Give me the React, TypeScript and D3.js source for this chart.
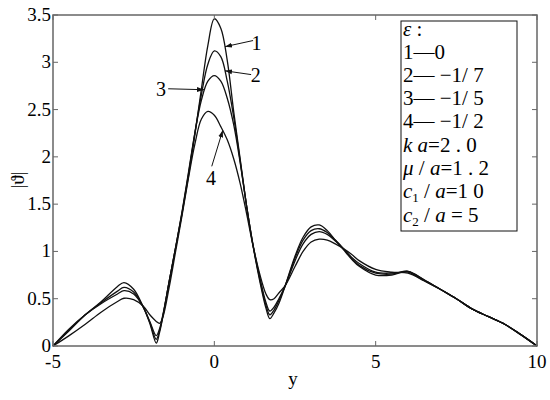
import React from 'react';
import * as d3 from 'd3';

// sample positions along y, shared by the four curves
const yPos = [-5, -4.5, -4, -3.5, -3, -2.8, -2.5, -2.2, -2, -1.8, -1.7, -1.6, -1.4, -1.2, -1, -0.8, -0.6, -0.4, -0.2, 0,
  0.2, 0.4, 0.6, 0.8, 1, 1.2, 1.4, 1.6, 1.72, 1.85, 2, 2.2, 2.5, 2.75, 3, 3.25, 3.5, 3.75, 4, 4.25,
  4.5, 5, 5.5, 6, 6.5, 7, 7.5, 8, 8.5, 9, 9.5, 10];

// |theta| for eps = 0, -1/7, -1/5, -1/2
const curve1 = [0, 0.16, 0.33, 0.47, 0.63, 0.67, 0.6, 0.41, 0.24, 0.03, 0.14, 0.3, 0.68, 1.04, 1.4, 1.8, 2.24, 2.72, 3.18, 3.46,
  3.36, 3.02, 2.48, 1.98, 1.48, 1.06, 0.7, 0.4, 0.29, 0.35, 0.45, 0.64, 0.95, 1.15, 1.26, 1.28, 1.22, 1.12, 1.02, 0.92,
  0.84, 0.75, 0.75, 0.79, 0.7, 0.6, 0.5, 0.39, 0.31, 0.23, 0.12, 0];
const curve2 = [0, 0.17, 0.33, 0.46, 0.58, 0.62, 0.57, 0.41, 0.25, 0.07, 0.16, 0.31, 0.68, 1.04, 1.41, 1.82, 2.26, 2.66, 2.98, 3.12,
  3.06, 2.8, 2.42, 1.96, 1.48, 1.06, 0.72, 0.43, 0.33, 0.38, 0.48, 0.64, 0.93, 1.12, 1.22, 1.24, 1.2, 1.12, 1.03, 0.93,
  0.85, 0.77, 0.76, 0.79, 0.7, 0.6, 0.5, 0.39, 0.31, 0.23, 0.12, 0];
const curve3 = [0, 0.18, 0.33, 0.45, 0.55, 0.585, 0.55, 0.41, 0.26, 0.11, 0.18, 0.32, 0.68, 1.04, 1.42, 1.84, 2.26, 2.6, 2.8, 2.86,
  2.8, 2.62, 2.34, 1.94, 1.48, 1.07, 0.74, 0.46, 0.37, 0.41, 0.5, 0.64, 0.9, 1.08, 1.18, 1.21, 1.18, 1.11, 1.03, 0.94,
  0.87, 0.78, 0.77, 0.78, 0.69, 0.6, 0.5, 0.39, 0.31, 0.23, 0.12, 0];
const curve4 = [0, 0.11, 0.23, 0.36, 0.47, 0.505, 0.49, 0.42, 0.33, 0.26, 0.24, 0.3, 0.62, 1.0, 1.38, 1.78, 2.14, 2.4, 2.48, 2.44,
  2.32, 2.18, 1.98, 1.72, 1.4, 1.06, 0.77, 0.55, 0.49, 0.5, 0.56, 0.64, 0.84, 1.0, 1.1, 1.13, 1.12, 1.08, 1.03, 0.97,
  0.9, 0.81, 0.78, 0.77, 0.69, 0.6, 0.5, 0.39, 0.31, 0.23, 0.12, 0];

const xTicks = [-5, 0, 5, 10];
const yTicks = [0, 0.5, 1, 1.5, 2, 2.5, 3, 3.5];

// curve labels: text position and arrow (tail -> tip) in data units
const labels = [
  {text: '1', tx: 1.31, ty: 3.2, x0: 1.2, y0: 3.23, x1: 0.33, y1: 3.165},
  {text: '2', tx: 1.28, ty: 2.86, x0: 1.14, y0: 2.87, x1: 0.33, y1: 2.91},
  {text: '3', tx: -1.65, ty: 2.71, x0: -1.43, y0: 2.72, x1: -0.32, y1: 2.71},
  {text: '4', tx: -0.1, ty: 1.77, x0: -0.08, y0: 1.9, x1: 0.26, y1: 2.28},
];

const W = 550, H = 400;
const font = "'Liberation Serif', 'DejaVu Serif', 'Times New Roman', Times, serif";

export default function App() {
  const x = d3.scaleLinear().domain([-5, 10]).range([53, 537]);
  const y = d3.scaleLinear().domain([0, 3.5]).range([346, 15]);
  const [x0, x1] = x.range();
  const [y0, y1] = y.range();

  const line = d3.line<number>()
    .x((d, i) => x(yPos[i]))
    .y(d => y(d))
    .curve(d3.curveCatmullRom.alpha(0.5));

  const axisColor = '#666';
  const tick = 5;

  return (
    <svg width={W} height={H} style={{position: 'absolute', left: 0, top: 0, background: '#fff', fontFamily: font}}>
      <defs>
        <marker id="ah" viewBox="0 0 10 10" refX="10" refY="5" markerWidth="7" markerHeight="7"
                orient="auto" markerUnits="userSpaceOnUse">
          <path d="M0,1.5 L10,5 L0,8.5 Z" fill="#111" />
        </marker>
      </defs>

      {[curve1, curve2, curve3, curve4].map((c, i) => (
        <path key={i} d={line(c) || ''} fill="none" stroke="#111" strokeWidth={1.3} />
      ))}

      {/* frame */}
      <rect x={x0} y={y1} width={x1 - x0} height={y0 - y1} fill="none" stroke={axisColor} strokeWidth={1.5} />
      {xTicks.map(t => (
        <g key={t}>
          <line x1={x(t)} x2={x(t)} y1={y0} y2={y0 - tick} stroke={axisColor} />
          <line x1={x(t)} x2={x(t)} y1={y1} y2={y1 + tick} stroke={axisColor} />
          <text x={x(t)} y={368} textAnchor="middle" fontSize={19}>{t < 0 ? '-' + Math.abs(t) : t}</text>
        </g>
      ))}
      {yTicks.map(t => (
        <g key={t}>
          <line x1={x0} x2={x0 + tick} y1={y(t)} y2={y(t)} stroke={axisColor} />
          <line x1={x1} x2={x1 - tick} y1={y(t)} y2={y(t)} stroke={axisColor} />
          <text x={51} y={y(t) + 6} textAnchor="end" fontSize={19}>{t}</text>
        </g>
      ))}

      <text x={293} y={385} textAnchor="middle" fontSize={19}>y</text>
      <text transform="translate(24,180) rotate(-90)" textAnchor="middle" fontSize={19}>|ϑ|</text>

      {labels.map(l => (
        <g key={l.text}>
          <line x1={x(l.x0)} y1={y(l.y0)} x2={x(l.x1)} y2={y(l.y1)} stroke="#111" strokeWidth={1}
                markerEnd="url(#ah)" />
          <text x={x(l.tx)} y={y(l.ty) + 6.5} textAnchor="middle" fontSize={20}>{l.text}</text>
        </g>
      ))}

      {/* parameter box */}
      <rect x={401} y={21} width={116} height={210} fill="#fff" stroke="#111" strokeWidth={1} />
      <g fontSize={21}>
        <text x={403} y={36}><tspan fontStyle="italic">ε</tspan> :</text>
        <text x={403} y={58.5}>1—0</text>
        <text x={403} y={81.8}>2— −1/ 7</text>
        <text x={403} y={105.1}>3— −1/ 5</text>
        <text x={403} y={128.4}>4— −1/ 2</text>
        <text x={403} y={151.7}><tspan fontStyle="italic">k a</tspan>=2 . 0</text>
        <text x={403} y={175}><tspan fontStyle="italic">μ</tspan> / <tspan fontStyle="italic">a</tspan>=1 . 2</text>
        <text x={403} y={198.3}><tspan fontStyle="italic">c</tspan><tspan fontSize={13} dy={4}>1</tspan><tspan dy={-4}> / </tspan><tspan fontStyle="italic">a</tspan>=1 0</text>
        <text x={403} y={221.6}><tspan fontStyle="italic">c</tspan><tspan fontSize={13} dy={4}>2</tspan><tspan dy={-4}> / </tspan><tspan fontStyle="italic">a</tspan> = 5</text>
      </g>
    </svg>
  );
}
